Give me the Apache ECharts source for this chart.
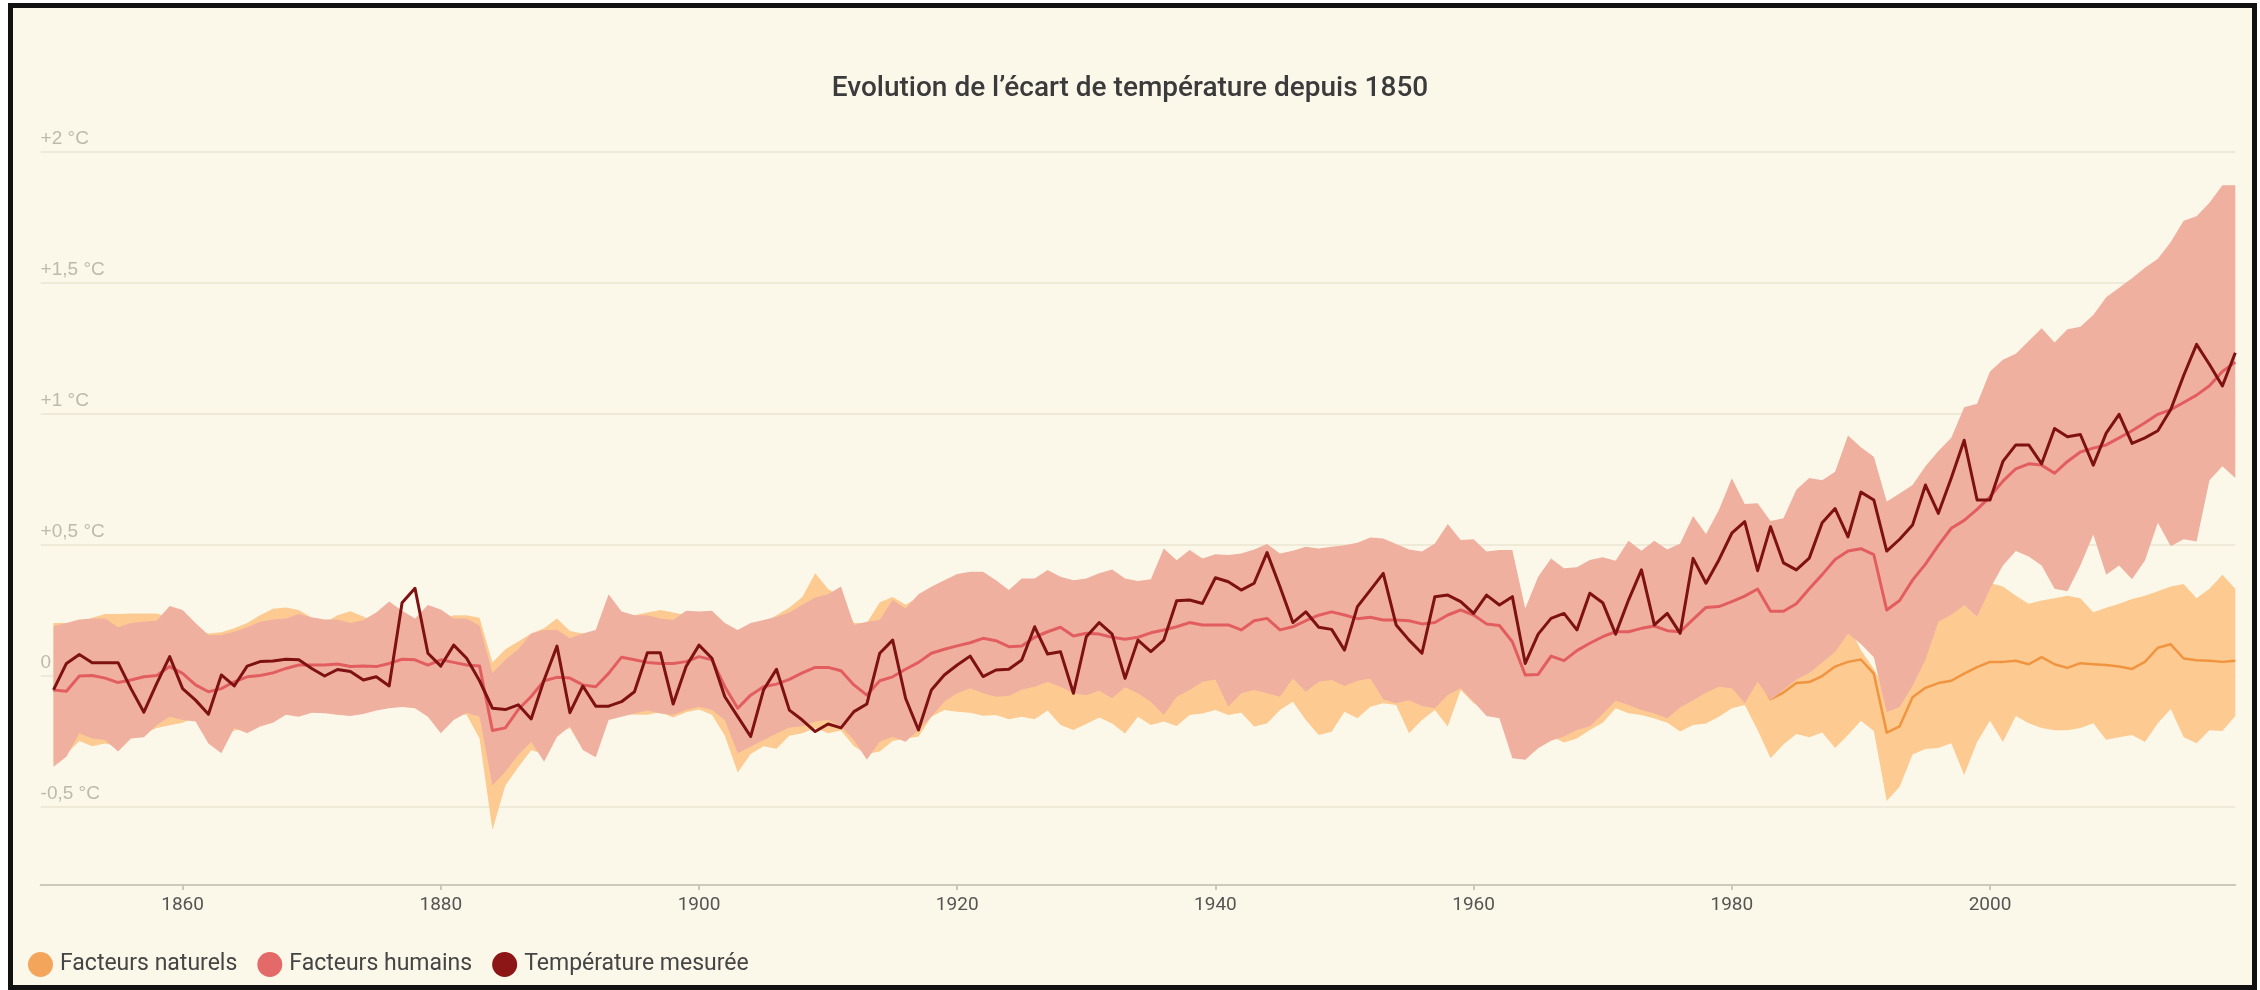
<!DOCTYPE html>
<html><head><meta charset="utf-8">
<script src="https://cdn.jsdelivr.net/npm/echarts@6/dist/echarts.min.js"></script>
<style>
html,body{margin:0;padding:0;background:#fff;width:2260px;height:990px;overflow:hidden}
#frame{position:absolute;left:8px;top:3px;width:2249px;height:987px;box-sizing:border-box;border:5px solid #111;background:#fbf8ea}
#chart{position:absolute;left:0;top:0;width:2260px;height:990px}
</style></head><body><div id="frame"></div><div id="chart"></div>
<script>
const years = [
1850,1851,1852,1853,1854,1855,1856,1857,1858,1859,1860,1861,1862,1863,1864,1865,1866,1867,1868,1869,
1870,1871,1872,1873,1874,1875,1876,1877,1878,1879,1880,1881,1882,1883,1884,1885,1886,1887,1888,1889,
1890,1891,1892,1893,1894,1895,1896,1897,1898,1899,1900,1901,1902,1903,1904,1905,1906,1907,1908,1909,
1910,1911,1912,1913,1914,1915,1916,1917,1918,1919,1920,1921,1922,1923,1924,1925,1926,1927,1928,1929,
1930,1931,1932,1933,1934,1935,1936,1937,1938,1939,1940,1941,1942,1943,1944,1945,1946,1947,1948,1949,
1950,1951,1952,1953,1954,1955,1956,1957,1958,1959,1960,1961,1962,1963,1964,1965,1966,1967,1968,1969,
1970,1971,1972,1973,1974,1975,1976,1977,1978,1979,1980,1981,1982,1983,1984,1985,1986,1987,1988,1989,
1990,1991,1992,1993,1994,1995,1996,1997,1998,1999,2000,2001,2002,2003,2004,2005,2006,2007,2008,2009,
2010,2011,2012,2013,2014,2015,2016,2017,2018,2019];

// Température mesurée
const observed = [
-0.055,0.046,0.08,0.049,0.049,0.049,-0.05,-0.14,-0.03,0.072,
-0.05,-0.094,-0.148,0.002,-0.04,0.036,0.053,0.055,0.062,0.06,
0.027,-0.002,0.023,0.015,-0.017,-0.005,-0.04,0.278,0.333,0.085,
0.036,0.116,0.066,-0.02,-0.125,-0.13,-0.112,-0.166,-0.017,0.112,
-0.142,-0.04,-0.117,-0.117,-0.1,-0.062,0.087,0.087,-0.109,0.034,
0.116,0.066,-0.081,-0.157,-0.233,-0.055,0.024,-0.132,-0.17,-0.214,
-0.185,-0.2,-0.138,-0.109,0.085,0.135,-0.087,-0.208,-0.055,0.002,
0.04,0.074,-0.004,0.021,0.024,0.059,0.186,0.082,0.091,-0.068,
0.148,0.202,0.158,-0.011,0.135,0.091,0.135,0.285,0.288,0.275,
0.373,0.358,0.326,0.352,0.469,0.339,0.202,0.243,0.184,0.176,
0.097,0.263,0.326,0.39,0.193,0.135,0.085,0.301,0.307,0.282,
0.237,0.307,0.269,0.301,0.046,0.158,0.218,0.237,0.174,0.314,
0.278,0.158,0.288,0.403,0.193,0.237,0.161,0.447,0.352,0.441,
0.543,0.587,0.4,0.568,0.43,0.403,0.448,0.583,0.637,0.529,
0.7,0.67,0.475,0.52,0.574,0.727,0.619,0.754,0.898,0.67,
0.67,0.817,0.88,0.88,0.808,0.943,0.911,0.92,0.803,0.925,
0.997,0.886,0.907,0.934,1.015,1.145,1.264,1.187,1.105,1.232];

// Facteurs humains : moyenne, borne haute, borne basse
const humanMean = [
-0.055,-0.06,-0.002,0,-0.01,-0.027,-0.017,-0.005,0,0.034,
0.008,-0.036,-0.062,-0.05,-0.024,-0.005,0,0.01,0.027,0.04,
0.04,0.04,0.044,0.034,0.036,0.034,0.046,0.062,0.06,0.04,
0.06,0.05,0.04,0.036,-0.21,-0.2,-0.13,-0.08,-0.02,-0.007,
-0.01,-0.036,-0.043,0.008,0.07,0.06,0.05,0.046,0.046,0.053,
0.072,0.06,-0.043,-0.125,-0.075,-0.043,-0.033,-0.015,0.01,0.031,
0.031,0.018,-0.036,-0.075,-0.02,-0.005,0.024,0.05,0.085,0.1,
0.113,0.125,0.142,0.133,0.11,0.113,0.146,0.167,0.184,0.151,
0.161,0.158,0.146,0.138,0.146,0.163,0.174,0.186,0.202,0.193,
0.193,0.193,0.174,0.209,0.218,0.174,0.186,0.209,0.23,0.243,
0.231,0.217,0.222,0.212,0.212,0.209,0.197,0.202,0.231,0.25,
0.231,0.197,0.191,0.129,0.002,0.004,0.074,0.057,0.095,0.123,
0.148,0.167,0.167,0.18,0.189,0.171,0.167,0.214,0.26,0.263,
0.282,0.303,0.33,0.245,0.245,0.274,0.331,0.385,0.443,0.475,
0.484,0.461,0.25,0.286,0.364,0.425,0.497,0.562,0.592,0.634,
0.682,0.742,0.789,0.808,0.803,0.772,0.817,0.853,0.868,0.88,
0.907,0.934,0.965,0.997,1.015,1.042,1.07,1.106,1.16,1.196];

const humanHigh = [
0.189,0.2,0.214,0.218,0.218,0.184,0.2,0.205,0.21,0.265,
0.25,0.2,0.155,0.155,0.167,0.184,0.205,0.214,0.218,0.235,
0.222,0.214,0.214,0.2,0.212,0.24,0.282,0.247,0.218,0.269,
0.252,0.218,0.218,0.19,0.01,0.06,0.1,0.16,0.174,0.174,
0.142,0.16,0.174,0.31,0.244,0.23,0.23,0.218,0.212,0.247,
0.244,0.247,0.2,0.174,0.2,0.212,0.224,0.24,0.27,0.298,
0.31,0.34,0.193,0.205,0.212,0.288,0.256,0.31,0.339,0.364,
0.387,0.396,0.396,0.364,0.326,0.37,0.37,0.403,0.377,0.364,
0.37,0.39,0.405,0.37,0.361,0.367,0.485,0.44,0.479,0.447,
0.463,0.46,0.466,0.481,0.502,0.466,0.476,0.491,0.485,0.491,
0.497,0.507,0.527,0.523,0.502,0.481,0.473,0.504,0.578,0.517,
0.52,0.473,0.479,0.479,0.256,0.377,0.447,0.409,0.413,0.441,
0.451,0.438,0.514,0.476,0.514,0.481,0.504,0.609,0.54,0.632,
0.753,0.655,0.657,0.59,0.6,0.709,0.754,0.745,0.778,0.916,
0.871,0.835,0.664,0.695,0.727,0.799,0.857,0.907,1.024,1.037,
1.16,1.205,1.228,1.277,1.325,1.271,1.322,1.331,1.376,1.444,
1.48,1.516,1.556,1.591,1.655,1.736,1.753,1.804,1.871,1.871];

const humanLow = [
-0.348,-0.31,-0.22,-0.24,-0.246,-0.29,-0.24,-0.236,-0.189,-0.157,
-0.17,-0.176,-0.26,-0.297,-0.2,-0.22,-0.195,-0.18,-0.15,-0.157,
-0.142,-0.144,-0.15,-0.155,-0.147,-0.134,-0.125,-0.12,-0.125,-0.157,
-0.22,-0.17,-0.142,-0.157,-0.42,-0.367,-0.303,-0.253,-0.329,-0.234,
-0.195,-0.284,-0.312,-0.17,-0.157,-0.145,-0.134,-0.145,-0.151,-0.132,
-0.119,-0.132,-0.17,-0.297,-0.272,-0.246,-0.221,-0.198,-0.195,-0.176,
-0.17,-0.195,-0.246,-0.322,-0.253,-0.234,-0.253,-0.208,-0.157,-0.1,
-0.068,-0.049,-0.068,-0.081,-0.078,-0.053,-0.043,-0.025,-0.043,-0.068,
-0.075,-0.058,-0.087,-0.045,-0.068,-0.1,-0.151,-0.081,-0.055,-0.024,
-0.015,-0.119,-0.068,-0.055,-0.068,-0.081,-0.011,-0.062,-0.024,-0.017,
-0.04,-0.02,-0.011,-0.091,-0.106,-0.094,-0.116,-0.125,-0.074,-0.049,
-0.1,-0.155,-0.163,-0.316,-0.322,-0.278,-0.249,-0.233,-0.208,-0.195,
-0.147,-0.096,-0.113,-0.132,-0.145,-0.163,-0.122,-0.094,-0.066,-0.043,
-0.049,-0.106,-0.024,-0.094,-0.055,-0.015,0.01,0.05,0.09,0.16,
0.12,0.07,-0.14,-0.12,-0.04,0.06,0.205,0.232,0.268,0.223,
0.331,0.42,0.475,0.454,0.42,0.331,0.322,0.42,0.538,0.385,
0.42,0.367,0.439,0.583,0.493,0.52,0.511,0.745,0.799,0.754];

// Facteurs naturels : moyenne, borne haute, borne basse
const naturalMean = [
-0.06,-0.05,-0.01,-0.01,-0.01,-0.02,0,0.01,0.02,0.02,
0.01,0,-0.02,-0.04,-0.01,0,0.02,0.04,0.06,0.06,
0.04,0.03,0.04,0.05,0.04,0.03,0.05,0.06,0.04,0.03,
0.03,0.04,0.04,0,-0.26,-0.16,-0.11,-0.06,-0.05,0,
-0.01,-0.06,-0.03,0.02,0.04,0.04,0.05,0.05,0.04,0.05,
0.04,0.03,-0.04,-0.12,-0.08,-0.04,-0.03,0.01,0.04,0.09,
0.06,0.05,-0.03,-0.05,-0.01,0.02,0.02,0.03,0.06,0.07,
0.06,0.05,0.05,0.04,0.03,0.04,0.04,0.06,0.02,0,
0.02,0.04,0.03,0,0.04,0.02,0.02,0.02,0.05,0.05,
0.07,0.05,0.05,0.02,0.03,0.06,0.08,0.04,0,0,
0.06,0.05,0.07,0.08,0.08,0,0.03,0.06,0.02,0.09,
0.07,0.06,0.02,-0.06,-0.11,-0.08,-0.05,-0.06,-0.05,-0.02,
0,0.06,0.05,0.04,0.03,0.01,-0.02,0,0.01,0.03,
0.05,0.07,0,-0.09,-0.065,-0.029,-0.025,-0.002,0.034,0.052,
0.061,0.007,-0.218,-0.194,-0.083,-0.047,-0.029,-0.02,0.007,0.032,
0.052,0.052,0.056,0.043,0.07,0.043,0.029,0.047,0.043,0.04,
0.034,0.025,0.052,0.106,0.119,0.065,0.058,0.056,0.052,0.056];

const naturalHigh = [
0.2,0.2,0.2,0.22,0.235,0.235,0.237,0.237,0.237,0.22,
0.2,0.17,0.16,0.165,0.18,0.2,0.23,0.255,0.26,0.25,
0.22,0.2,0.23,0.245,0.225,0.2,0.21,0.22,0.2,0.2,
0.21,0.23,0.23,0.22,0.05,0.1,0.13,0.16,0.18,0.218,
0.17,0.16,0.16,0.2,0.22,0.23,0.24,0.25,0.24,0.23,
0.22,0.2,0.15,0.12,0.15,0.2,0.23,0.26,0.3,0.39,
0.33,0.3,0.2,0.2,0.28,0.3,0.27,0.3,0.33,0.32,
0.3,0.28,0.27,0.25,0.22,0.24,0.25,0.26,0.22,0.2,
0.22,0.25,0.23,0.2,0.24,0.22,0.21,0.22,0.25,0.26,
0.27,0.24,0.26,0.22,0.23,0.27,0.29,0.24,0.2,0.21,
0.27,0.25,0.28,0.29,0.28,0.2,0.24,0.27,0.22,0.32,
0.28,0.26,0.22,0.12,0.05,0.1,0.14,0.13,0.15,0.17,
0.2,0.25,0.24,0.23,0.22,0.2,0.17,0.19,0.2,0.22,
0.25,0.26,0.18,0.04,0.097,0.133,0.17,0.15,0.187,0.196,
0.097,0.025,-0.065,-0.01,0.115,0.205,0.245,0.26,0.268,0.223,
0.353,0.34,0.304,0.274,0.286,0.295,0.304,0.295,0.241,0.259,
0.274,0.292,0.304,0.322,0.34,0.349,0.295,0.331,0.385,0.331];

const naturalLow = [
-0.33,-0.3,-0.25,-0.27,-0.26,-0.27,-0.23,-0.22,-0.2,-0.19,
-0.18,-0.16,-0.2,-0.24,-0.21,-0.2,-0.19,-0.16,-0.13,-0.13,
-0.14,-0.14,-0.15,-0.14,-0.14,-0.13,-0.11,-0.09,-0.12,-0.15,
-0.16,-0.15,-0.15,-0.24,-0.59,-0.42,-0.35,-0.285,-0.3,-0.22,
-0.2,-0.28,-0.22,-0.165,-0.145,-0.15,-0.15,-0.14,-0.16,-0.14,
-0.13,-0.15,-0.23,-0.37,-0.3,-0.27,-0.28,-0.23,-0.22,-0.2,
-0.22,-0.21,-0.27,-0.3,-0.29,-0.25,-0.24,-0.234,-0.157,-0.132,
-0.138,-0.142,-0.154,-0.151,-0.167,-0.157,-0.167,-0.134,-0.189,-0.208,
-0.185,-0.16,-0.183,-0.221,-0.157,-0.189,-0.176,-0.193,-0.151,-0.145,
-0.132,-0.151,-0.142,-0.195,-0.183,-0.132,-0.1,-0.17,-0.227,-0.215,
-0.138,-0.163,-0.119,-0.106,-0.113,-0.22,-0.17,-0.132,-0.195,-0.055,
-0.106,-0.132,-0.157,-0.233,-0.271,-0.259,-0.231,-0.256,-0.24,-0.208,
-0.18,-0.125,-0.144,-0.151,-0.164,-0.18,-0.214,-0.189,-0.183,-0.157,
-0.125,-0.113,-0.208,-0.316,-0.263,-0.223,-0.236,-0.218,-0.277,-0.227,
-0.173,-0.212,-0.479,-0.425,-0.302,-0.281,-0.277,-0.259,-0.38,-0.254,
-0.173,-0.254,-0.155,-0.182,-0.2,-0.209,-0.209,-0.2,-0.182,-0.245,
-0.236,-0.227,-0.254,-0.182,-0.128,-0.236,-0.259,-0.209,-0.212,-0.155];

const xTickValues = [1860, 1880, 1900, 1920, 1940, 1960, 1980, 2000];
const yTickValues = [-0.5, 0, 0.5, 1, 1.5, 2];
const yTickLabels = ['-0,5 °C', '0 °C', '+0,5 °C', '+1 °C', '+1,5 °C', '+2 °C'];
const seriesNames = ['Facteurs naturels', 'Facteurs humains', 'Température mesurée'];

const C = {
  natBand: '#fdcb92', natLine: '#f0943f', natLegend: '#f4a55c',
  humBand: '#f0b09f', humLine: '#e25e5e', humLegend: '#e46a6a',
  obsLine: '#7e1111', obsLegend: '#8c1616'
};

function pairs(arr) { return years.map((y, i) => [y, arr[i]]); }

function band(name, lo, hi, color, z) {
  const data = years.map((y, i) => [y, lo[i], hi[i]]);
  return {
    type: 'custom', name: name, data: data, silent: true, z: z,
    encode: { x: 0, y: [1, 2] },
    itemStyle: { color: color },
    renderItem: function (params, api) {
      if (params.dataIndex !== 0) return null;
      const up = [], dn = [];
      for (let i = 0; i < data.length; i++) {
        up.push(api.coord([data[i][0], data[i][2]]));
        dn.push(api.coord([data[i][0], data[i][1]]));
      }
      return { type: 'polygon', shape: { points: up.concat(dn.reverse()) }, style: { fill: color } };
    }
  };
}

function line(name, arr, color, width, z) {
  return {
    type: 'line', name: name, data: pairs(arr), symbol: 'none', showSymbol: false, z: z,
    silent: true, lineStyle: { color: color, width: width, join: 'round' }, itemStyle: { color: color }
  };
}

const chart = echarts.init(document.getElementById('chart'), null, { renderer: 'canvas' });
chart.setOption({
  animation: false,
  backgroundColor: 'transparent',
  title: {
    text: 'Evolution de l’écart de température depuis 1850',
    left: 'center', top: 70,
    textStyle: { fontFamily: 'Roboto', fontWeight: 500, fontSize: 28, color: '#3b3b3b' }
  },
  legend: {
    left: 23, top: 947, icon: 'circle', itemWidth: 25, itemHeight: 25, itemGap: 20,
    selectedMode: false,
    textStyle: { fontFamily: 'Roboto', fontSize: 23, color: '#454545', padding: [0, 0, 0, 2] },
    data: [
      { name: seriesNames[0], itemStyle: { color: C.natLegend } },
      { name: seriesNames[1], itemStyle: { color: C.humLegend } },
      { name: seriesNames[2], itemStyle: { color: C.obsLegend } }
    ]
  },
  grid: { left: 40.6, right: 24.7, top: 151.5, bottom: 104.9, containLabel: false },
  xAxis: {
    type: 'value', min: 1849, max: 2019,
    axisLine: { onZero: false, lineStyle: { color: '#cdc9b8', width: 2 } },
    axisTick: { show: true, length: 5, customValues: xTickValues, lineStyle: { color: '#cdc9b8', width: 2 } },
    axisLabel: {
      customValues: xTickValues, margin: 11, fontFamily: 'Roboto', fontSize: 19, color: '#555555',
      formatter: function (v) { return String(v); }
    },
    splitLine: { show: false }
  },
  yAxis: {
    type: 'value', min: -0.8, max: 2, minInterval: 0.5, maxInterval: 0.5,
    axisLine: { show: false }, axisTick: { show: false },
    splitLine: { show: true, lineStyle: { color: '#efe9d7', width: 2 } },
    axisLabel: {
      inside: true, margin: 0, verticalAlign: 'bottom', padding: [0, 0, 3, 0],
      fontFamily: 'Liberation Sans', fontSize: 19, color: '#bdb9ab',
      formatter: function (v) {
        for (let i = 0; i < yTickValues.length; i++) {
          if (Math.abs(yTickValues[i] - v) < 1e-6) return yTickLabels[i];
        }
        return '';
      }
    }
  },
  series: [
    band(seriesNames[0], naturalLow, naturalHigh, C.natBand, 1),
    line(seriesNames[0], naturalMean, C.natLine, 2.5, 2),
    band(seriesNames[1], humanLow, humanHigh, C.humBand, 3),
    line(seriesNames[1], humanMean, C.humLine, 3, 4),
    line(seriesNames[2], observed, C.obsLine, 3, 5)
  ]
});
</script></body></html>
